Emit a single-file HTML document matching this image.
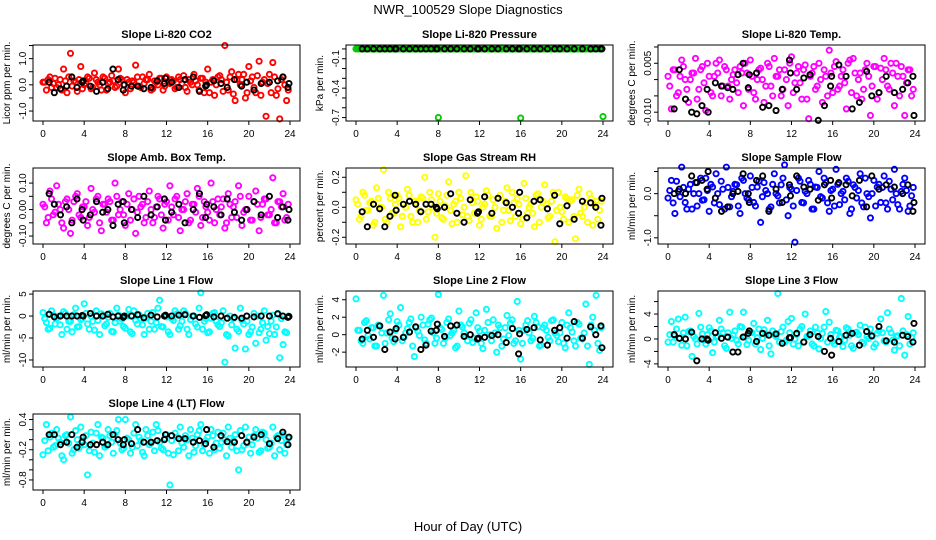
<!DOCTYPE html>
<html><head><meta charset="utf-8"><style>
html,body{margin:0;padding:0;background:#fff;}
svg{display:block;font-family:"Liberation Sans",sans-serif;}
</style></head><body>
<svg id="chart" width="936" height="540" viewBox="0 0 936 540">
<text x="468" y="14" text-anchor="middle" font-size="13">NWR_100529  Slope Diagnostics</text>
<text x="468" y="531" text-anchor="middle" font-size="13">Hour of Day (UTC)</text>
</svg>
<script>
const hoursC=[0,0.33,0.67,1,1.33,1.67,2,2.33,2.67,3,3.33,3.67,4,4.33,4.67,5,5.33,5.67,6,6.33,6.67,7,7.33,7.67,8,8.33,8.67,9,9.33,9.67,10,10.33,10.67,11,11.33,11.67,12,12.33,12.67,13,13.33,13.67,14,14.33,14.67,15,15.33,15.67,16,16.33,16.67,17,17.33,17.67,18,18.33,18.67,19,19.33,19.67,20,20.33,20.67,21,21.33,21.67,22,22.33,22.67,23,23.33,23.67];
const hoursC2=[0.17,0.5,0.83,1.17,1.5,1.83,2.17,2.5,2.83,3.17,3.5,3.83,4.17,4.5,4.83,5.17,5.5,5.83,6.17,6.5,6.83,7.17,7.5,7.83,8.17,8.5,8.83,9.17,9.5,9.83,10.17,10.5,10.83,11.17,11.5,11.83,12.17,12.5,12.83,13.17,13.5,13.83,14.17,14.5,14.83,15.17,15.5,15.83,16.17,16.5,16.83,17.17,17.5,17.83,18.17,18.5,18.83,19.17,19.5,19.83,20.17,20.5,20.83,21.17,21.5,21.83,22.17,22.5,22.83,23.17,23.5,23.83];
const hoursB=[0.6,1.1,1.7,2.3,2.8,3.3,3.8,3.9,4.6,5.2,5.8,6.3,6.8,7.3,7.8,7.9,8.6,9.2,9.8,10.5,11.1,11.8,11.9,12.5,13.2,13.8,14.6,15.2,15.8,15.9,16.6,17.3,17.9,18.6,19.3,19.8,20.5,21.2,22.0,22.8,23.3,23.8,23.9];
const xTicks=[0,4,8,12,16,20,24];

const co2C=[0.1,-0.2,0.3,0.05,-0.1,0.2,0.6,-0.3,1.2,0.15,-0.25,0.7,0.0,0.3,-0.15,0.45,0.1,-0.2,0.25,0.05,0.35,-0.1,0.6,0.2,-0.3,0.1,0.15,0.75,-0.05,0.3,0.2,0.4,-0.15,0.1,0.25,-0.2,0.3,0.05,0.15,-0.1,0.2,0.35,-0.25,0.1,0.4,0.0,0.25,-0.3,0.6,0.1,-0.4,0.3,0.2,1.5,-0.2,0.5,-0.6,0.4,0.2,-0.5,0.7,0.3,-0.3,0.9,0.1,-1.2,0.4,0.85,-0.4,-1.3,0.3,-0.6];
const co2C2=[0.1,0.2,-0.1,0.25,0.0,-0.2,0.15,0.3,-0.05,0.1,0.2,-0.15,0.05,0.25,-0.1,0.2,0.0,0.3,-0.2,0.1,0.15,-0.05,0.25,0.0,0.2,-0.15,0.1,0.3,-0.1,0.05,0.2,-0.2,0.15,0.0,0.25,-0.05,0.1,0.2,-0.15,0.3,0.05,-0.1,0.2,0.0,0.15,-0.2,0.25,0.1,-0.3,0.2,0.0,0.35,-0.25,0.1,0.3,-0.35,0.2,0.0,0.4,-0.3,0.15,-0.1,0.35,-0.4,0.2,0.05,-0.3,0.3,-0.15,0.2,0.0,-0.2];
const co2B=[0.1,-0.3,-0.15,-0.05,0.3,-0.1,0.1,0.15,-0.05,-0.25,0.1,-0.15,0.6,0.2,-0.2,0.0,-0.05,-0.05,-0.15,-0.1,0.15,0.05,0.25,0.1,-0.1,0.2,0.3,-0.25,-0.05,0.0,0.15,0.05,-0.1,0.2,-0.05,0.1,-0.2,0.05,0.1,0.15,0.3,-0.1,0.05];
const presC=[0,0,0,0,0,0,0,0,0,0,0,0,0,0,0,0,0,0,0,0,0,0,0,0,0,0,0,0,0,0,0,0,0,0,0,0,0,0,0,0,0,0,0,0,0,0,0,0,0,0,0,0,0,0,0,0,0,0,0,0,0,0,0,0,0,0,0,0,0,0,0,0];
const presC2=[0,0,0,0,0,0,0,0,0,0,0,0,0,0,0,0,0,0,0,0,0,0,0,0,0,0,0,0,0,0,0,0,0,0,0,0,0,0,0,0,0,0,0,0,0,0,0,0,0,0,0,0,0,0,0,0,0,0,0,0,0,0,0,0,0,0,0,0,0,0,0,0];
const presB=[0,0,0,0,0,0,0,0,0,0,0,0,0,0,0,0,0,0,0,0,0,0,0,0,0,0,0,0,0,0,0,0,0,0,0,0,0,0,0,0,0,0,0];
const presOutH=[8,16,24];
const presOutV=[-0.7,-0.705,-0.69];
const tempC=[0.001,-0.009,0.003,-0.004,0.006,0.0,-0.007,0.002,0.0065,-0.003,0.004,-0.0095,0.001,-0.005,0.005,0.006,-0.002,0.003,-0.006,0.0015,-0.001,0.004,-0.008,0.002,0.006,-0.004,0.0,0.0035,-0.007,0.005,-0.002,0.0065,0.001,-0.005,0.003,-0.008,0.007,-0.001,0.004,-0.006,0.0045,-0.012,0.002,-0.003,0.005,-0.007,0.001,0.009,-0.004,0.0055,-0.002,0.003,-0.009,0.006,0.0065,-0.005,0.002,-0.003,0.005,-0.011,0.004,-0.006,0.0035,0.0065,-0.002,0.005,-0.008,0.001,0.004,-0.011,0.003,-0.005];
const tempC2=[-0.002,0.003,-0.005,0.001,0.004,-0.003,0.0,0.002,-0.006,0.003,-0.001,0.005,-0.004,0.001,0.002,-0.005,0.004,-0.002,0.0,0.003,-0.004,0.002,0.005,-0.003,0.001,-0.006,0.003,0.0,-0.002,0.004,-0.005,0.001,0.003,-0.003,0.0,0.005,-0.004,0.002,-0.001,0.003,-0.006,0.001,0.004,-0.002,0.0,0.003,-0.005,0.002,0.004,-0.003,0.001,-0.001,0.005,-0.004,0.002,0.0,-0.006,0.003,0.001,-0.002,0.004,-0.004,0.0,0.003,-0.003,0.002,0.005,-0.005,0.001,-0.001,0.003,-0.003];
const tempB=[-0.009,0.003,-0.006,-0.01,-0.0105,-0.008,-0.003,-0.01,-0.001,-0.002,-0.0025,-0.003,0.0015,0.005,-0.0025,0.0015,0.002,-0.0085,-0.008,-0.0095,-0.003,0.006,0.002,-0.003,0.0005,0.0015,-0.0125,-0.008,-0.002,0.001,0.0045,0.001,-0.009,-0.007,0.0025,-0.005,-0.004,0.001,-0.004,-0.003,-0.001,0.001,-0.011];
const ambC=[0.02,-0.05,0.07,-0.02,0.09,0.0,-0.07,0.04,-0.09,0.03,0.06,-0.03,0.01,-0.06,0.08,-0.01,0.05,-0.08,0.02,0.04,-0.04,0.1,-0.02,0.03,-0.06,0.06,0.0,-0.09,0.05,0.02,-0.03,0.07,-0.05,0.01,0.04,-0.07,0.03,0.09,-0.02,0.05,-0.08,0.0,0.06,-0.04,0.02,0.08,-0.06,0.03,-0.01,0.1,-0.05,0.04,0.01,-0.07,0.06,-0.03,0.03,0.09,-0.06,0.0,0.05,-0.04,0.07,-0.08,0.02,0.04,-0.02,0.12,-0.05,0.03,0.06,-0.03];
const ambC2=[0.01,-0.03,0.04,-0.01,0.02,-0.05,0.03,0.0,-0.04,0.05,-0.02,0.01,0.03,-0.03,0.0,0.04,-0.05,0.02,-0.01,0.03,-0.04,0.05,0.0,-0.02,0.02,-0.04,0.04,-0.01,0.01,-0.05,0.03,0.0,-0.03,0.05,-0.02,0.02,-0.04,0.01,0.04,-0.03,0.0,0.03,-0.05,0.02,-0.01,0.05,-0.03,0.01,-0.04,0.03,0.0,-0.02,0.04,-0.05,0.02,0.01,-0.03,0.05,-0.01,0.0,-0.04,0.03,0.02,-0.03,0.04,-0.02,0.0,-0.05,0.03,0.01,-0.04,0.02];
const ambB=[0.06,0.02,-0.02,0.01,-0.05,0.04,0.0,-0.04,-0.02,0.03,-0.01,0.0,-0.06,0.02,0.03,-0.05,0.0,-0.03,0.05,-0.02,0.01,0.04,-0.04,-0.01,0.02,-0.05,0.0,0.06,-0.03,0.02,0.01,-0.02,0.04,-0.01,-0.04,0.0,0.03,-0.02,0.05,-0.03,0.01,-0.04,0.0];
const rhC=[0.05,-0.08,0.1,-0.02,0.03,-0.12,0.13,0.0,0.25,-0.1,0.06,-0.04,0.08,-0.13,0.02,0.12,-0.06,0.04,-0.1,0.07,0.2,-0.03,0.05,-0.2,0.09,-0.07,0.01,0.17,-0.11,0.04,0.1,-0.05,0.21,-0.09,0.03,0.07,-0.12,0.0,0.11,-0.06,0.05,-0.14,0.08,-0.02,0.13,-0.09,0.03,0.06,-0.11,0.16,-0.04,0.02,-0.13,0.09,0.0,0.15,-0.07,0.04,-0.23,0.1,-0.03,0.07,-0.1,0.05,-0.21,0.12,-0.06,0.03,0.09,-0.12,0.04,-0.02];
const rhC2=[0.02,-0.06,0.08,-0.02,0.04,-0.1,0.06,0,-0.08,0.1,-0.04,0.02,0.06,-0.06,0,0.08,-0.1,0.04,-0.02,0.06,-0.08,0.1,0,-0.04,0.04,-0.08,0.08,-0.02,0.02,-0.1,0.06,0,-0.06,0.1,-0.04,0.04,-0.08,0.02,0.08,-0.06,0,0.06,-0.1,0.04,-0.02,0.1,-0.06,0.02,-0.08,0.06,0,-0.04,0.08,-0.1,0.04,0.02,-0.06,0.1,-0.02,0,-0.08,0.06,0.04,-0.06,0.08,-0.04,0,-0.1,0.06,0.02,-0.08,0.04];
const rhB=[-0.03,-0.13,0.02,-0.01,-0.13,-0.06,0.08,-0.02,0.02,0.04,0.02,-0.03,0.02,0.02,0.0,-0.01,0.0,0.09,-0.04,-0.1,0.05,-0.04,-0.03,0.07,-0.04,0.06,0.03,0.0,-0.04,0.1,-0.07,0.04,0.05,-0.01,0.08,-0.11,0.01,-0.08,0.04,0.03,0.0,-0.12,0.06];
const sampC=[-0.1,0.3,-0.45,0.05,0.6,-0.2,0.1,-0.35,0.25,0.0,-0.15,0.35,-0.4,0.15,0.45,-0.25,0.1,0.6,-0.3,0.05,0.2,-0.45,0.3,-0.1,0.4,-0.2,0.15,-0.65,0.25,0.0,-0.3,0.45,-0.05,0.2,0.65,-0.5,0.1,-1.1,0.35,-0.2,0.05,0.3,-0.35,0.15,0.5,-0.1,0.25,-0.4,0.1,0.55,-0.25,0.05,0.35,-0.45,0.2,-0.1,0.45,-0.3,0.0,-0.55,0.3,0.15,-0.2,0.4,-0.35,0.1,0.55,-0.25,0.05,0.35,-0.4,-0.05];
const sampC2=[0.07,-0.21,0.28,-0.07,0.14,-0.35,0.21,0,-0.28,0.35,-0.14,0.07,0.21,-0.21,0,0.28,-0.35,0.14,-0.07,0.21,-0.28,0.35,0,-0.14,0.14,-0.28,0.28,-0.07,0.07,-0.35,0.21,0,-0.21,0.35,-0.14,0.14,-0.28,0.07,0.28,-0.21,0,0.21,-0.35,0.14,-0.07,0.35,-0.21,0.07,-0.28,0.21,0,-0.14,0.28,-0.35,0.14,0.07,-0.21,0.35,-0.07,0,-0.28,0.21,0.14,-0.21,0.28,-0.14,0,-0.35,0.21,0.07,-0.28,0.14];
const sampB=[0.0,0.1,0.0,0.4,0.25,0.3,0.1,0.5,-0.1,-0.4,-0.3,0.0,0.05,0.45,0.0,-0.2,0.3,0.4,-0.4,0.1,-0.2,0.2,-0.05,0.4,0.15,0.1,-0.15,0.2,0.3,-0.1,0.25,0.2,-0.05,0.3,-0.3,0.4,0.1,0.2,0.15,0.0,0.2,-0.4,-0.2];
const l1C=[0.8,-1.5,-2.8,0.2,-0.5,-2.0,1.0,-3.0,-1.2,0.3,-2.5,-0.8,2.8,-1.8,0.0,-3.2,-1.0,0.5,-2.2,-0.3,-3.5,-1.5,0.2,-0.7,-2.8,1.5,-4.0,-1.0,0.3,-2.0,-0.5,-3.0,0.8,-1.5,3.6,-2.5,-0.2,-4.2,-1.0,0.5,-2.2,1.2,-3.0,-0.8,0.0,-2.5,5.3,-1.2,-3.8,-0.5,0.8,-2.0,-1.5,-10.5,-4.5,-2.0,-7.3,-3.5,-1.0,-7.5,-4.2,-2.5,-6.2,-3.8,-1.5,-5.5,-4.0,0.2,-2.5,-9.5,-6.5,-3.8];
const l1C2=[-0.6,-3.0,1.2,-1.8,0,-4.2,0.6,-1.2,-3.6,1.8,-2.4,-0.6,0.6,-3.0,-1.2,1.2,-4.2,0,-1.8,0.6,-3.6,1.8,-1.2,-2.4,0,-3.6,1.2,-1.8,-0.6,-4.2,0.6,-1.2,-3.0,1.8,-2.4,0,-3.6,-0.6,1.2,-3.0,-1.2,0.6,-4.2,0,-1.8,1.8,-3.0,-0.6,-3.6,0.6,-1.2,-2.4,1.2,-4.2,0,-0.6,-3.0,1.8,-1.8,-1.2,-3.6,0.6,0,-3.0,1.2,-2.4,-1.2,-4.2,0.6,-0.6,-3.6,0];
const l1B=[0.4,-0.2,0.0,0.0,0.0,0.0,0.1,0.0,0.6,0.0,0.0,0.4,-0.2,0.0,-0.3,0.0,0.0,0.3,-0.4,0.2,-0.2,0.0,0.2,0.0,0.2,0.3,0.0,-0.3,0.1,0.3,-0.2,0.0,-0.5,-0.3,-0.5,0.0,-0.2,0.0,0.0,0.5,0.0,-0.3,-0.1];
const l2C=[4.1,0.5,-1.0,1.6,-0.5,0.8,-1.3,1.0,4.5,0.2,2.4,-0.8,1.5,3.1,-0.3,0.7,1.8,-2.5,0.4,2.0,-0.6,1.2,1.9,-1.0,4.6,0.6,-0.4,1.8,0.2,-1.5,2.7,0.9,-0.2,1.3,-0.9,2.5,0.4,-1.6,2.9,0.0,1.7,-2.0,0.8,-0.5,2.2,1.3,-1.0,3.8,-2.8,0.5,1.6,-0.7,2.1,0.9,-1.2,1.1,-0.3,1.6,0.2,-0.8,1.4,-1.5,2.5,0.3,-1.3,1.2,-0.5,3.5,-3.4,2.0,4.5,-1.8];
const l2C2=[0.5,-0.7,1.4,-0.1,0.8,-1.3,1.1,0.2,-1.0,1.7,-0.4,0.5,1.1,-0.7,0.2,1.4,-1.3,0.8,-0.1,1.1,-1.0,1.7,0.2,-0.4,0.8,-1.0,1.4,-0.1,0.5,-1.3,1.1,0.2,-0.7,1.7,-0.4,0.8,-1.0,0.5,1.4,-0.7,0.2,1.1,-1.3,0.8,-0.1,1.7,-0.7,0.5,-1.0,1.1,0.2,-0.4,1.4,-1.3,0.8,0.5,-0.7,1.7,-0.1,0.2,-1.0,1.1,0.8,-0.7,1.4,-0.4,0.2,-1.3,1.1,0.5,-1.0,0.8];
const l2B=[-0.5,0.5,-0.3,1.0,-1.7,0.3,-0.5,0.7,-0.3,0.3,0.9,-1.7,-1.2,0.4,0.5,1.2,-0.2,1.0,1.1,-0.2,0.0,-0.5,-0.4,-0.3,-0.1,0.0,-0.9,0.7,-2.2,0.1,0.6,0.8,-0.6,-1.2,0.5,0.8,-0.4,1.5,-0.4,0.9,0.0,1.0,-1.5];
const l3C=[-0.5,2.8,0.5,3.2,-1.0,3.5,1.2,-2.8,0.0,4.1,0.8,-0.8,1.8,-2.2,0.3,3.0,1.0,-1.5,4.3,0.6,-0.2,2.0,4.3,-0.9,1.1,2.5,0.2,-1.7,1.5,3.0,-2.4,0.7,7.3,1.2,-0.5,2.8,3.3,0.0,-1.1,2.0,4.0,0.5,-0.8,1.9,-1.6,0.9,4.4,2.7,-0.4,1.4,0.3,-1.2,1.8,0.6,-1.5,1.1,2.2,-0.7,0.4,1.6,-1.3,0.9,3.2,-0.3,4.2,1.0,-1.8,0.5,6.5,-2.6,3.6,0.2];
const l3C2=[0.7,-0.5,1.6,0.1,1.0,-1.1,1.3,0.4,-0.8,1.9,-0.2,0.7,1.3,-0.5,0.4,1.6,-1.1,1.0,0.1,1.3,-0.8,1.9,0.4,-0.2,1.0,-0.8,1.6,0.1,0.7,-1.1,1.3,0.4,-0.5,1.9,-0.2,1.0,-0.8,0.7,1.6,-0.5,0.4,1.3,-1.1,1.0,0.1,1.9,-0.5,0.7,-0.8,1.3,0.4,-0.2,1.6,-1.1,1.0,0.7,-0.5,1.9,0.1,0.4,-0.8,1.3,1.0,-0.5,1.6,-0.2,0.4,-1.1,1.3,0.7,-0.8,1.0];
const l3B=[0.7,0.1,0.0,1.1,-3.5,0.0,0.0,-0.2,1.0,0.1,0.3,-2.1,-2.1,0.3,0.9,1.3,-0.4,0.9,0.6,0.8,-0.7,0.2,0.2,0.9,-0.5,0.7,0.4,-2.0,0.1,-2.6,-0.4,0.6,0.9,-1.0,1.2,0.5,2.0,-0.3,-0.5,0.6,0.4,-0.5,2.5];
const l4C=[-0.3,0.3,0.05,-0.15,0.2,-0.05,-0.4,0.1,0.45,-0.2,0.0,0.25,-0.1,-0.7,0.15,-0.25,0.3,0.05,-0.15,0.2,-0.05,0.1,0.4,-0.2,0.4,0.0,-0.15,0.3,0.05,-0.25,0.2,-0.1,0.15,0.3,-0.05,-0.2,0.1,-0.9,-0.3,0.05,0.25,-0.15,0.0,0.2,-0.25,0.1,0.3,-0.1,0.05,0.2,-0.2,0.15,-0.05,0.0,0.25,-0.15,0.1,-0.6,-0.2,0.25,0.05,-0.1,0.2,-0.25,0.15,0.0,-0.15,0.25,0.05,-0.2,0.1,-0.1];
const l4C2=[-0.02,-0.22,0.13,-0.12,0.03,-0.32,0.08,-0.07,-0.27,0.18,-0.17,-0.02,0.08,-0.22,-0.07,0.13,-0.32,0.03,-0.12,0.08,-0.27,0.18,-0.07,-0.17,0.03,-0.27,0.13,-0.12,-0.02,-0.32,0.08,-0.07,-0.22,0.18,-0.17,0.03,-0.27,-0.02,0.13,-0.22,-0.07,0.08,-0.32,0.03,-0.12,0.18,-0.22,-0.02,-0.27,0.08,-0.07,-0.17,0.13,-0.32,0.03,-0.02,-0.22,0.18,-0.12,-0.07,-0.27,0.08,0.03,-0.22,0.13,-0.17,-0.07,-0.32,0.08,-0.02,-0.27,0.03];
const l4B=[0.1,0.1,-0.1,-0.05,0.1,-0.15,-0.05,0.05,-0.1,-0.1,-0.05,-0.1,0.1,0.0,-0.1,0.0,-0.08,0.2,-0.05,-0.05,-0.02,0.0,0.1,0.08,0.02,0.02,-0.05,-0.02,-0.08,0.2,-0.15,0.08,-0.04,-0.05,0.08,-0.05,0.05,0.1,-0.08,0.02,0.15,-0.1,0.05];

const panels=[
 {name:"co2",title:"Slope Li-820 CO2",yl:"Licor ppm per min.",col:0,row:0,ymin:-1.38,ymax:1.52,ticks:[-1,-0.5,0,0.5,1,1.5],labels:{"-1":"-1.0","0":"0.0","1":"1.0"},color:"#ff0000",c:co2C,c2:co2C2,b:co2B},
 {name:"pressure",title:"Slope Li-820 Pressure",yl:"kPa per min.",col:1,row:0,ymin:-0.735,ymax:0.04,ticks:[-0.7,-0.6,-0.5,-0.4,-0.3,-0.2,-0.1,0],labels:{"-0.7":"-0.7","-0.4":"-0.4","-0.1":"-0.1"},color:"#00cc00",c:presC,c2:presC2,b:presB,oh:presOutH,ov:presOutV},
 {name:"temp",title:"Slope Li-820 Temp.",yl:"degrees C per min.",col:2,row:0,ymin:-0.0127,ymax:0.0106,ticks:[-0.01,-0.005,0,0.005,0.01],labels:{"-0.01":"-0.010","0.005":"0.005"},color:"#ff00ff",c:tempC,c2:tempC2,b:tempB},
 {name:"amb-box-temp",title:"Slope Amb. Box Temp.",yl:"degrees C per min.",col:0,row:1,ymin:-0.13,ymax:0.157,ticks:[-0.1,-0.05,0,0.05,0.1],labels:{"-0.1":"-0.10","0":"0.00","0.1":"0.10"},color:"#ff00ff",c:ambC,c2:ambC2,b:ambB},
 {name:"gas-rh",title:"Slope Gas Stream RH",yl:"percent per min.",col:1,row:1,ymin:-0.245,ymax:0.262,ticks:[-0.2,-0.1,0,0.1,0.2],labels:{"-0.2":"-0.2","0":"0.0","0.2":"0.2"},color:"#ffff00",c:rhC,c2:rhC2,b:rhB},
 {name:"sample-flow",title:"Slope Sample Flow",yl:"ml/min per min.",col:2,row:1,ymin:-1.14,ymax:0.58,ticks:[-1,-0.5,0,0.5],labels:{"-1":"-1.0","0":"0.0"},color:"#0000ff",c:sampC,c2:sampC2,b:sampB},
 {name:"line1-flow",title:"Slope Line 1 Flow",yl:"ml/min per min.",col:0,row:2,ymin:-11.6,ymax:5.7,ticks:[-10,-5,0,5],labels:{"-10":"-10","-5":"-5","0":"0","5":"5"},color:"#00ffff",c:l1C,c2:l1C2,b:l1B},
 {name:"line2-flow",title:"Slope Line 2 Flow",yl:"ml/min per min.",col:1,row:2,ymin:-3.7,ymax:5.0,ticks:[-2,0,2,4],labels:{"-2":"-2","0":"0","2":"2","4":"4"},color:"#00ffff",c:l2C,c2:l2C2,b:l2B},
 {name:"line3-flow",title:"Slope Line 3 Flow",yl:"ml/min per min.",col:2,row:2,ymin:-4.5,ymax:7.7,ticks:[-4,-2,0,2,4,6],labels:{"-4":"-4","0":"0","4":"4"},color:"#00ffff",c:l3C,c2:l3C2,b:l3B},
 {name:"line4-flow",title:"Slope Line 4 (LT) Flow",yl:"ml/min per min.",col:0,row:3,ymin:-1.0,ymax:0.51,ticks:[-0.8,-0.6,-0.4,-0.2,0,0.2,0.4],labels:{"-0.8":"-0.8","-0.2":"-0.2","0.4":"0.4"},color:"#00ffff",c:l4C,c2:l4C2,b:l4B}
];
const NS="http://www.w3.org/2000/svg";
const svg=document.getElementById("chart");
const colX=[33,346,658], rowY=[45,168,291,414], W=267, H=76;
function mk(tag,attrs,parent){const e=document.createElementNS(NS,tag);for(const k in attrs)e.setAttribute(k,attrs[k]);parent.appendChild(e);return e;}
panels.forEach(p=>{
  const L=colX[p.col],T=rowY[p.row];
  const xs=h=>L+10+h*(247/24);
  const ys=v=>T+H-(v-p.ymin)/(p.ymax-p.ymin)*H;
  const g=mk("g",{},svg);
  
  
  const t=mk("text",{x:L+W/2,y:T-7,"text-anchor":"middle","font-size":"11","font-weight":"bold"},g);
  t.textContent=p.title;
  
  
  const yl=mk("text",{transform:`translate(${L-23},${T+H/2}) rotate(-90)`,"text-anchor":"middle","font-size":"10"},g);
  yl.textContent=p.yl;
  
  
  const pts=mk("g",{fill:"none","stroke-width":"1.9"},g);
  
  
  p.c2.forEach((v,i)=>{const c=mk("circle",{cx:xs(hoursC2[i]),cy:ys(v),r:2.6,stroke:p.color},pts);
    
    });
  p.c.forEach((v,i)=>{const c=mk("circle",{cx:xs(hoursC[i]),cy:ys(v),r:2.6,stroke:p.color},pts);
    
    });
  if(p.oh)p.oh.forEach((h,i)=>{const c=mk("circle",{cx:xs(h),cy:ys(p.ov[i]),r:2.6,stroke:p.color},pts);
    
    });
  p.b.forEach((v,i)=>{const c=mk("circle",{cx:xs(hoursB[i]),cy:ys(v),r:2.6,stroke:"#000"},pts);
    
    });
  const box=mk("rect",{x:L,y:T,width:W,height:H,fill:"none",stroke:"#000","stroke-width":"1"},g);
  
  
  xTicks.forEach(h=>{
    mk("line",{x1:xs(h),x2:xs(h),y1:T+H,y2:T+H+4,stroke:"#000"},g);
    const tl=mk("text",{x:xs(h),y:T+H+16,"text-anchor":"middle","font-size":"10"},g);
    tl.textContent=h;
    
    
  });
  p.ticks.forEach(v=>{
    const y=ys(v);
    mk("line",{x1:L-4,x2:L,y1:y,y2:y,stroke:"#000"},g);
    const lab=p.labels[String(v)];
    if(lab!==undefined){
      const tl=mk("text",{transform:`translate(${L-7},${y}) rotate(-90)`,"text-anchor":"middle","font-size":"10"},g);
      tl.textContent=lab;
      
      
    }
  });
});
</script>
</body></html>
